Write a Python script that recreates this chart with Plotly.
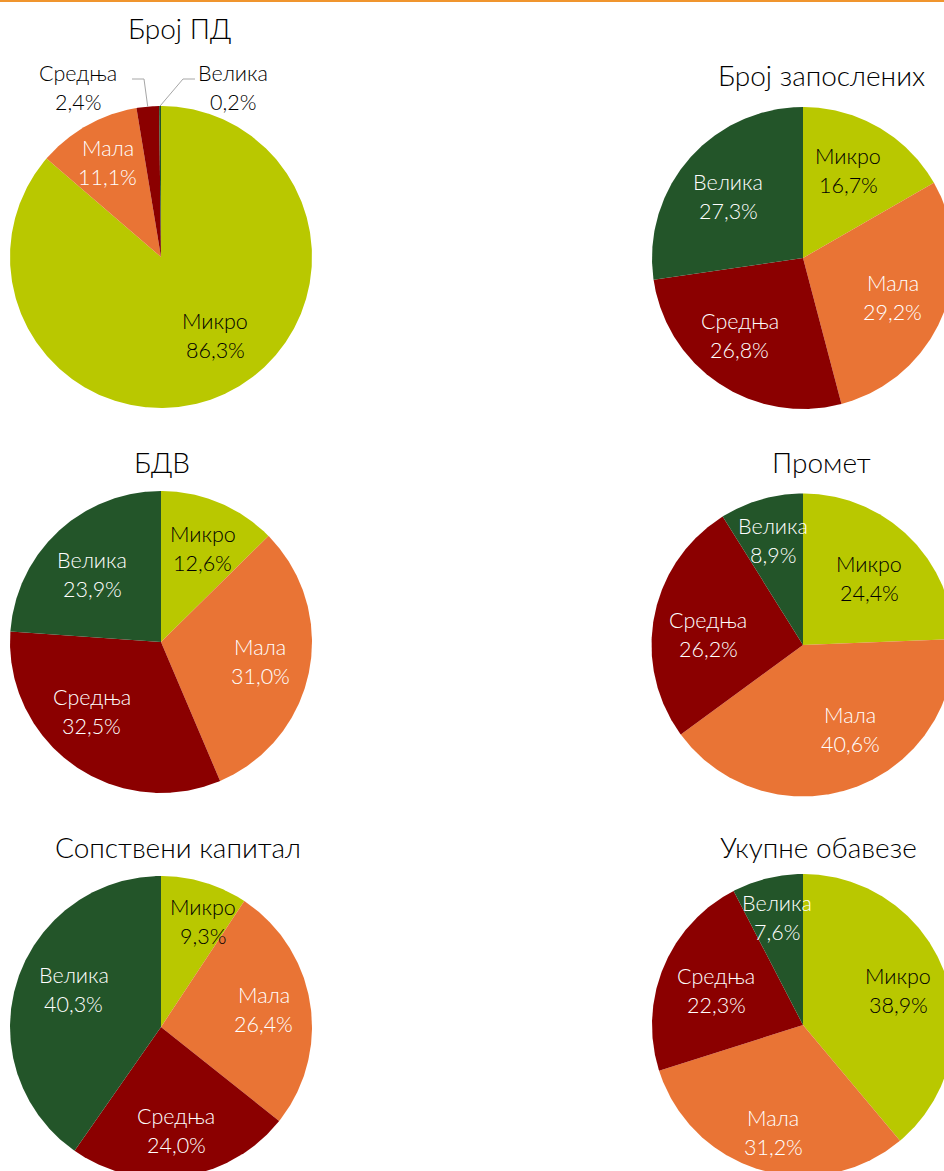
import math
import plotly.graph_objects as go

# ---- data -------------------------------------------------------------
categories = ["Микро", "Мала", "Средња", "Велика"]

broj_pd = [86.3, 11.1, 2.4, 0.2]
broj_zaposlenih = [16.7, 29.2, 26.8, 27.3]
bdv = [12.6, 31.0, 32.5, 23.9]
promet = [24.4, 40.6, 26.2, 8.9]
sopstveni_kapital = [9.3, 26.4, 24.0, 40.3]
ukupne_obaveze = [38.9, 31.2, 22.3, 7.6]

chart_titles = ["Број ПД", "Број запослених", "БДВ", "Промет",
                "Сопствени капитал", "Укупне обавезе"]
series = [broj_pd, broj_zaposlenih, bdv, promet, sopstveni_kapital, ukupne_obaveze]

# ---- styling / layout -------------------------------------------------
W, H = 944, 1171
FONT = "Lato"
FONT_WEIGHT = 300
SLICE_COLORS = ["#B9C800", "#E97435", "#8B0000", "#235529"]
TEXT_COLORS = ["#000000", "#FFFFFF", "#FFFFFF", "#FFFFFF"]
TITLE_SIZE = 28
LABEL_SIZE = 21.5
LINE_GAP = 29

# centre, radius, title anchor and label placement (radius fraction, angular nudge)
panels = [
    dict(cx=161, cy=257, r=151, title=(179, 28),
         labels=[(0.63, -10), (0.72, 0), None, None],
         outside={2: dict(text=(-83, -170), elbow=(-17, -178), end=(-29, -178)),
                  3: dict(text=(72, -170), elbow=(22, -178), end=(34, -178))}),
    dict(cx=803, cy=258, r=151, title=(821, 75),
         labels=[(0.65, -2.7), (0.65, 1.3), (0.66, 5.8), (0.64, -1.4)], outside={}),
    dict(cx=161, cy=642, r=151, title=(162, 462),
         labels=[(0.68, 1.4), (0.67, 0.2), (0.65, 9.5), (0.64, -2.4)], outside={}),
    dict(cx=803, cy=645, r=151.5, title=(821, 462),
         labels=[(0.62, 1.1), (0.64, -10), (0.63, -4.6), (0.72, 0)], outside={}),
    dict(cx=161, cy=1027, r=151, title=(178, 847),
         labels=[(0.75, 5.1), (0.69, -0.9), (0.69, 0), (0.63, 5.9)], outside={}),
    dict(cx=803, cy=1025, r=151, title=(818, 847),
         labels=[(0.67, 0.3), (0.74, -0.7), (0.62, -0.6), (0.73, 0)], outside={}),
]


def fmt_pct(v):
    return f"{v:.1f}".replace(".", ",") + "%"


def polar(cx, cy, radius, deg):
    a = math.radians(deg)
    return cx + radius * math.sin(a), cy - radius * math.cos(a)


fig = go.Figure()
annotations = []

for values, title, p in zip(series, chart_titles, panels):
    cx, cy, R = p["cx"], p["cy"], p["r"]
    total = sum(values)
    start = 0.0
    for i, (cat, v) in enumerate(zip(categories, values)):
        span = v / total * 360.0
        end = start + span
        steps = max(2, int(math.ceil(span / 0.5)))
        xs, ys = [cx], [cy]
        for k in range(steps + 1):
            x, y = polar(cx, cy, R, start + span * k / steps)
            xs.append(x)
            ys.append(y)
        xs.append(cx)
        ys.append(cy)
        fig.add_trace(go.Scatter(
            x=xs, y=ys, mode="lines", fill="toself",
            fillcolor=SLICE_COLORS[i], line=dict(width=0, color=SLICE_COLORS[i]),
            hoverinfo="text", text=f"{title}: {cat} {fmt_pct(v)}",
            showlegend=False))

        mid = start + span / 2
        if i in p["outside"]:
            o = p["outside"][i]
            ex, ey = polar(cx, cy, R, mid)
            fig.add_trace(go.Scatter(
                x=[ex, cx + o["elbow"][0], cx + o["end"][0]],
                y=[ey, cy + o["elbow"][1], cy + o["end"][1]],
                mode="lines", line=dict(color="#A6A6A6", width=1),
                hoverinfo="skip", showlegend=False))
            lx, ly = cx + o["text"][0], cy + o["text"][1]
            tcolor = "#000000"
        else:
            frac, nudge = p["labels"][i]
            lx, ly = polar(cx, cy, R * frac, mid + nudge)
            tcolor = TEXT_COLORS[i]
        for line, dy in ((cat, -LINE_GAP / 2), (fmt_pct(v), LINE_GAP / 2)):
            annotations.append(dict(
                x=lx, y=ly + dy, xref="x", yref="y", text=line, showarrow=False,
                font=dict(family=FONT, size=LABEL_SIZE, color=tcolor, weight=FONT_WEIGHT),
                xanchor="center", yanchor="middle"))
        start = end

    tx, ty = p["title"]
    annotations.append(dict(
        x=tx, y=ty, xref="x", yref="y", text=title, showarrow=False,
        font=dict(family=FONT, size=TITLE_SIZE, color="#000000", weight=FONT_WEIGHT),
        xanchor="center", yanchor="middle"))

fig.update_layout(
    width=W, height=H,
    margin=dict(l=0, r=0, t=0, b=0),
    paper_bgcolor="white", plot_bgcolor="white",
    xaxis=dict(range=[0, W], visible=False, fixedrange=True),
    yaxis=dict(range=[H, 0], visible=False, fixedrange=True),
    annotations=annotations,
    shapes=[dict(type="line", xref="paper", yref="y", x0=0, x1=1, y0=1, y1=1,
                 line=dict(color="#F0952E", width=2))],
    showlegend=False,
)

fig.write_html("out.html")
